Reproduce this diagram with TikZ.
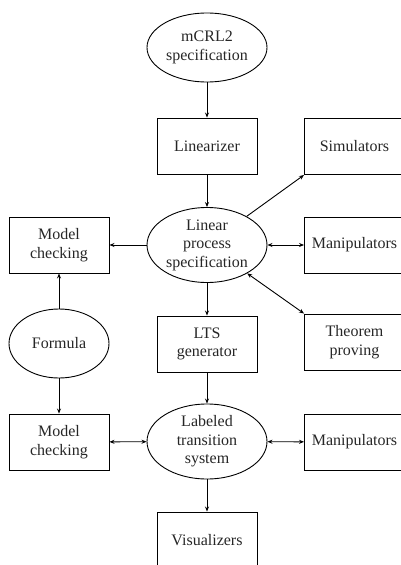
\documentclass[tikz,border=0pt]{standalone}
\usepackage{fontspec}
\setmainfont{Liberation Serif}
\usetikzlibrary{shapes.geometric,arrows.meta}
\begin{document}
\begin{tikzpicture}[x=1pt,y=-1pt,
  every node/.style={font=\fontsize{16}{18.5}\selectfont, align=center, text=black!85},
  boxnode/.style={draw, line width=0.9pt, minimum width=100pt, minimum height=56pt, inner sep=0pt},
  ellnode/.style={draw, ellipse, line width=0.9pt, minimum width=120pt, minimum height=75pt, inner sep=0pt},
  conn/.style={line width=0.9pt, -{Stealth[length=5pt,width=4pt]}},
  bconn/.style={line width=0.9pt, {Stealth[length=5pt,width=4pt]}-{Stealth[length=5pt,width=4pt]}}]
\useasboundingbox (0,0) rectangle (401,565);
\node[ellnode, minimum height=69pt] (mcrl) at (207,47.5) {mCRL2\\specification};
\node[boxnode] (lin) at (207,146) {Linearizer};
\node[boxnode] (sim) at (354.5,146.5) {Simulators};
\node[ellnode] (lps) at (207,245) {Linear\\process\\specification};
\node[boxnode] (mc1) at (59,245) {Model\\checking};
\node[boxnode] (man1) at (354.5,245) {Manipulators};
\node[ellnode, minimum width=100pt, minimum height=69pt] (form) at (59,343.5) {Formula};
\node[boxnode] (gen) at (207,344) {LTS\\generator};
\node[boxnode] (thm) at (354.5,342) {Theorem\\proving};
\node[boxnode] (mc2) at (59,442) {Model\\checking};
\node[ellnode] (lts) at (207,441.5) {Labeled\\transition\\system};
\node[boxnode] (man2) at (354.5,442) {Manipulators};
\node[boxnode] (vis) at (207,540) {Visualizers};
\draw[conn] (mcrl) -- (lin);
\draw[conn] (lin) -- (lps);
\draw[conn] (lps) -- (sim.south west);
\draw[bconn] (lps) -- (man1);
\draw[conn] (lps) -- (mc1);
\draw[conn] (lps) -- (gen);
\draw[bconn] (lps) -- (thm.north west);
\draw[conn] (form) -- (mc1);
\draw[conn] (form) -- (mc2);
\draw[conn] (gen) -- (lts);
\draw[bconn] (mc2) -- (lts);
\draw[bconn] (lts) -- (man2);
\draw[conn] (lts) -- (vis);
\end{tikzpicture}
\end{document}
